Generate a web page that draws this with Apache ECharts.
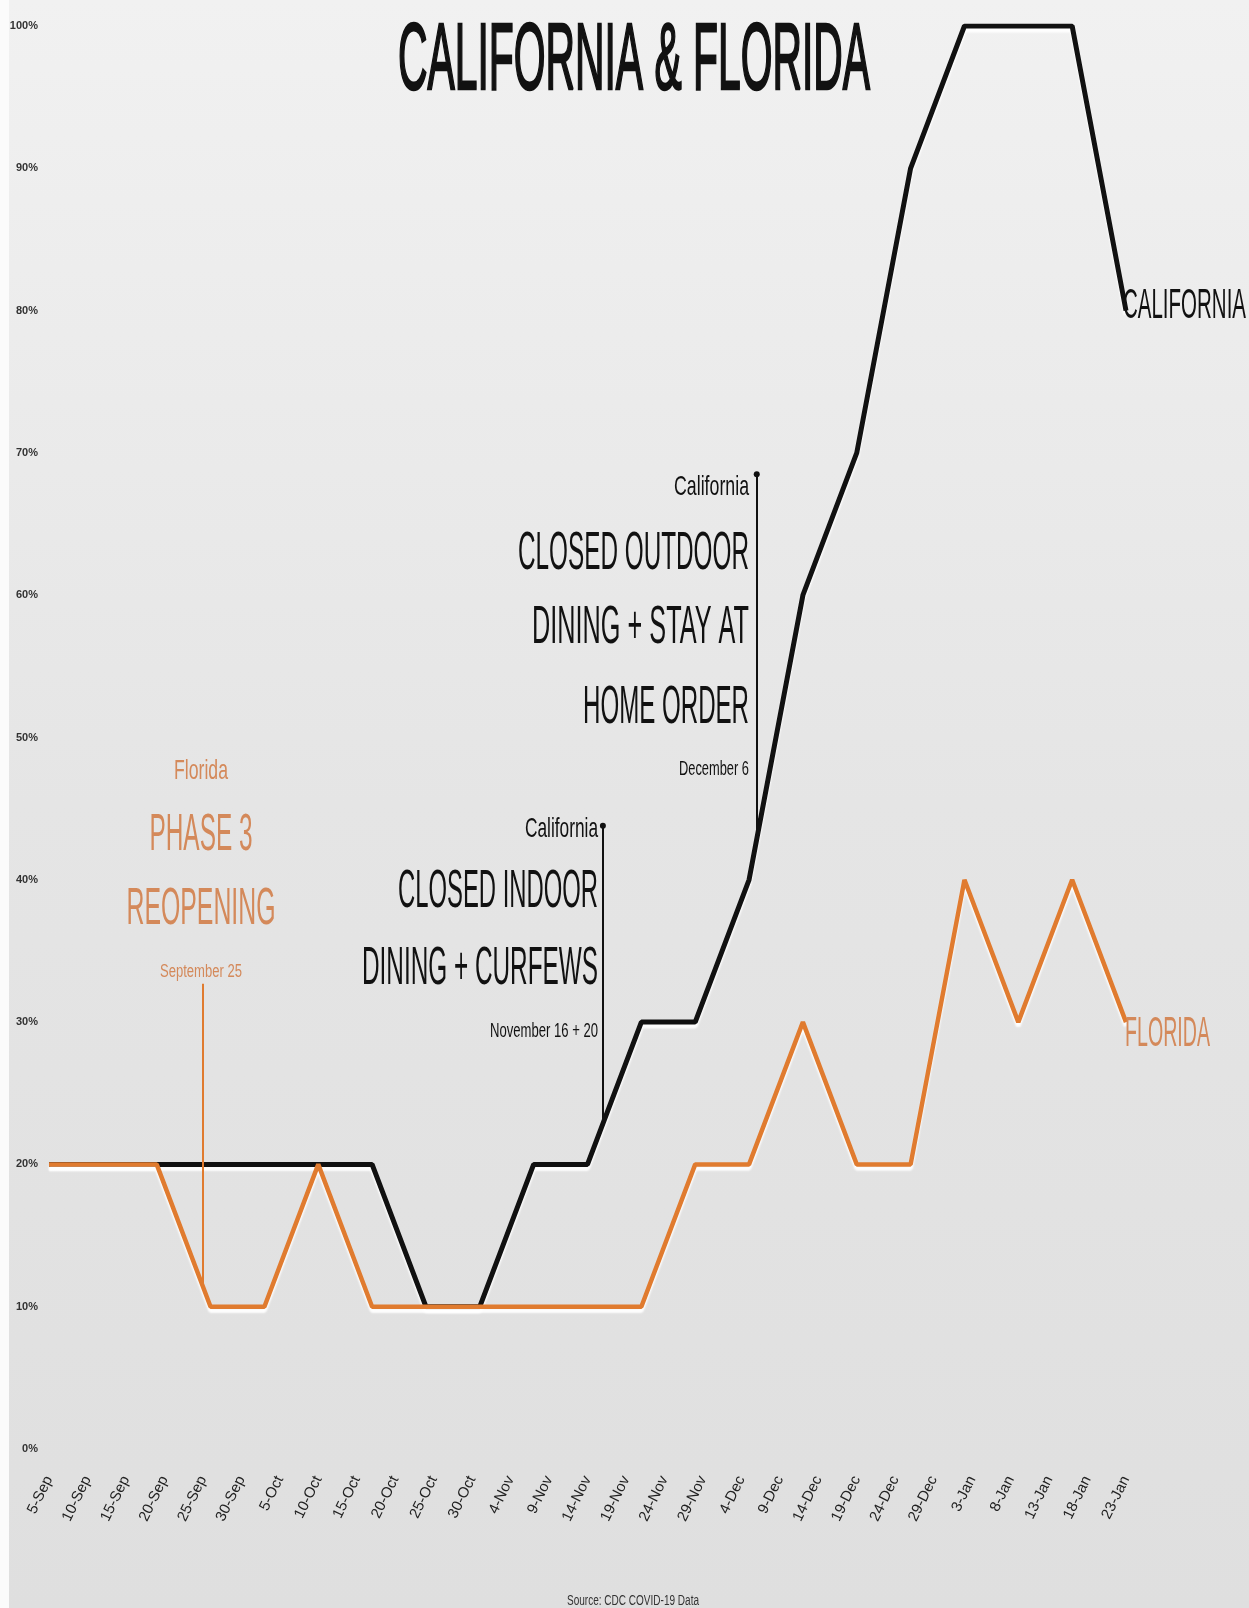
<!DOCTYPE html>
<html><head><meta charset="utf-8">
<script src="https://cdn.jsdelivr.net/npm/echarts@6/dist/echarts.min.js"></script>
<style>html,body{margin:0;padding:0;background:#e6e6e6}#c{width:1249px;height:1608px}</style>
</head><body><div id="c"></div>
<script>
// ---- data ----
const weekDates = ['2020-09-05','2020-09-12','2020-09-19','2020-09-26','2020-10-03','2020-10-10','2020-10-17',
  '2020-10-24','2020-10-31','2020-11-07','2020-11-14','2020-11-21','2020-11-28','2020-12-05','2020-12-12',
  '2020-12-19','2020-12-26','2021-01-02','2021-01-09','2021-01-16','2021-01-23'];
const california = [20,20,20,20,20,20,20,10,10,20,20,30,30,40,60,70,90,100,100,100,80];
const florida    = [20,20,20,10,10,20,10,10,10,10,10,10,20,20,30,20,20,40,30,40,30];
const xTickLabels = ['5-Sep','10-Sep','15-Sep','20-Sep','25-Sep','30-Sep','5-Oct','10-Oct','15-Oct','20-Oct',
  '25-Oct','30-Oct','4-Nov','9-Nov','14-Nov','19-Nov','24-Nov','29-Nov','4-Dec','9-Dec','14-Dec','19-Dec',
  '24-Dec','29-Dec','3-Jan','8-Jan','13-Jan','18-Jan','23-Jan'];
const yTickLabels = ['0%','10%','20%','30%','40%','50%','60%','70%','80%','90%','100%'];
const eventFlorida = '2020-09-25';
const eventIndoor = '2020-11-16';
const eventOutdoor = '2020-12-06';
const eventTops = {florida: 32.7, indoor: 43.8, outdoor: 68.5};

// ---- helpers ----
const DAY = 86400000;
const start = Date.parse(weekDates[0]);
const dayOf = d => Math.round((Date.parse(d) - start) / DAY);
const weekDays = weekDates.map(dayOf);
function valueAt(vals, day) {
  for (let i = 0; i < weekDays.length - 1; i++) {
    if (day >= weekDays[i] && day <= weekDays[i + 1]) {
      const t = (day - weekDays[i]) / (weekDays[i + 1] - weekDays[i]);
      return vals[i] + (vals[i + 1] - vals[i]) * t;
    }
  }
  return vals[vals.length - 1];
}
const FAM = "'Liberation Sans Narrow','Liberation Sans',Arial,sans-serif";
const ctx = document.createElement('canvas').getContext('2d');
function fitText(text, x, y, size, width, o) {
  o = o || {};
  const weight = o.weight || 'normal';
  ctx.font = weight + ' ' + size + 'px ' + FAM;
  const w = ctx.measureText(text).width || 1;
  const st = {
    text: text, x: 0, y: 0, fill: o.color || '#111',
    fontSize: size, fontFamily: FAM, fontWeight: weight,
    align: o.align || 'right', verticalAlign: 'middle',
    textAlign: o.align || 'right', textVerticalAlign: 'middle'
  };
  if (o.stroke) { st.stroke = o.color || '#111'; st.lineWidth = o.stroke; }
  if (o.glow) { st.shadowColor = o.glow; st.shadowBlur = 8; }
  return { type: 'text', x: x, y: y, scaleX: width / w, z: 100, silent: true, style: st };
}

const dF = dayOf(eventFlorida), dI = dayOf(eventIndoor), dO = dayOf(eventOutdoor);
const ORANGE = '#e07b2f';
const ORANGE_TXT = '#d4895a';
const GLOW = 'rgba(255,255,255,0.95)';

const chart = echarts.init(document.getElementById('c'), null, {renderer: 'canvas'});
chart.setOption({
  animation: false,
  backgroundColor: new echarts.graphic.LinearGradient(0, 0, 0, 1, [
    {offset: 0, color: '#f1f1f1'}, {offset: 0.5, color: '#e5e5e5'}, {offset: 1, color: '#dfdfdf'}
  ]),
  grid: {left: 49, right: 123, top: 26, bottom: 159},
  xAxis: {
    type: 'value', min: 0, max: 140, interval: 5,
    axisLine: {show: false}, axisTick: {show: false}, splitLine: {show: false},
    axisLabel: {
      formatter: v => xTickLabels[Math.round(v / 5)] || '',
      rotate: 64, fontSize: 15, color: '#222', margin: 28, fontFamily: 'Liberation Sans',
      showMinLabel: true, showMaxLabel: true
    }
  },
  yAxis: {
    type: 'value', min: 0, max: 100, interval: 10,
    axisLine: {show: false}, axisTick: {show: false}, splitLine: {show: false},
    axisLabel: {
      formatter: v => yTickLabels[Math.round(v / 10)] || '',
      fontSize: 11, fontWeight: 'bold', color: '#333', margin: 11, fontFamily: FAM
    }
  },
  series: [
    {
      name: 'California', type: 'line', z: 2, symbol: 'none', emphasis: {disabled: true},
      data: weekDays.map((d, i) => [d, california[i]]),
      lineStyle: {color: '#111', width: 5, shadowColor: GLOW, shadowOffsetY: 4, shadowBlur: 2},
      markLine: {
        silent: true, animation: false, symbol: ['none', 'circle'], symbolSize: 6,
        label: {show: false}, emphasis: {disabled: true},
        lineStyle: {color: '#111', width: 2, type: 'solid'},
        data: [
          [{coord: [dI, valueAt(california, dI)]}, {coord: [dI, eventTops.indoor]}],
          [{coord: [dO, valueAt(california, dO)]}, {coord: [dO, eventTops.outdoor]}]
        ]
      }
    },
    {
      name: 'Florida', type: 'line', z: 3, symbol: 'none', emphasis: {disabled: true},
      data: weekDays.map((d, i) => [d, florida[i]]),
      lineStyle: {color: ORANGE, width: 4.5, shadowColor: GLOW, shadowOffsetY: 4, shadowBlur: 2},
      markLine: {
        silent: true, animation: false, symbol: ['none', 'none'],
        label: {show: false}, emphasis: {disabled: true},
        lineStyle: {color: ORANGE, width: 2, type: 'solid'},
        data: [
          [{coord: [dF, valueAt(florida, dF)]}, {coord: [dF, eventTops.florida]}]
        ]
      }
    }
  ],
  graphic: [
    {type: 'rect', left: 0, top: 0, shape: {width: 9, height: 1608}, style: {fill: '#fbfbfb'}, z: 1, silent: true},
    fitText('CALIFORNIA & FLORIDA', 634, 63, 94, 472, {align: 'center', weight: 'normal', stroke: 2.5}),
    // Florida annotation
    fitText('Florida', 201, 771, 28, 54, {align: 'center', color: ORANGE_TXT, glow: GLOW}),
    fitText('PHASE 3', 201, 836, 51, 103, {align: 'center', color: ORANGE_TXT, glow: GLOW}),
    fitText('REOPENING', 201, 910, 51, 149, {align: 'center', color: ORANGE_TXT, glow: GLOW}),
    fitText('September 25', 201, 972, 18, 82, {align: 'center', color: ORANGE_TXT, glow: GLOW}),
    // California indoor
    fitText('California', 598, 829, 28, 73),
    fitText('CLOSED INDOOR', 598, 892, 54, 200),
    fitText('DINING + CURFEWS', 598, 969, 54, 236),
    fitText('November 16 + 20', 598, 1031, 21, 108),
    // California outdoor
    fitText('California', 749, 487, 28, 75),
    fitText('CLOSED OUTDOOR', 749, 554, 54, 231),
    fitText('DINING + STAY AT', 749, 628, 54, 217),
    fitText('HOME ORDER', 749, 708, 54, 166),
    fitText('December 6', 749, 769, 21, 70),
    // end labels
    fitText('CALIFORNIA', 1123, 306, 43, 123, {align: 'left'}),
    fitText('FLORIDA', 1125, 1034, 43, 85, {align: 'left', color: ORANGE_TXT, glow: GLOW}),
    // source
    fitText('Source: CDC COVID-19 Data', 633, 1601, 14, 132, {align: 'center', color: '#333'})
  ]
});
</script>
</body></html>
